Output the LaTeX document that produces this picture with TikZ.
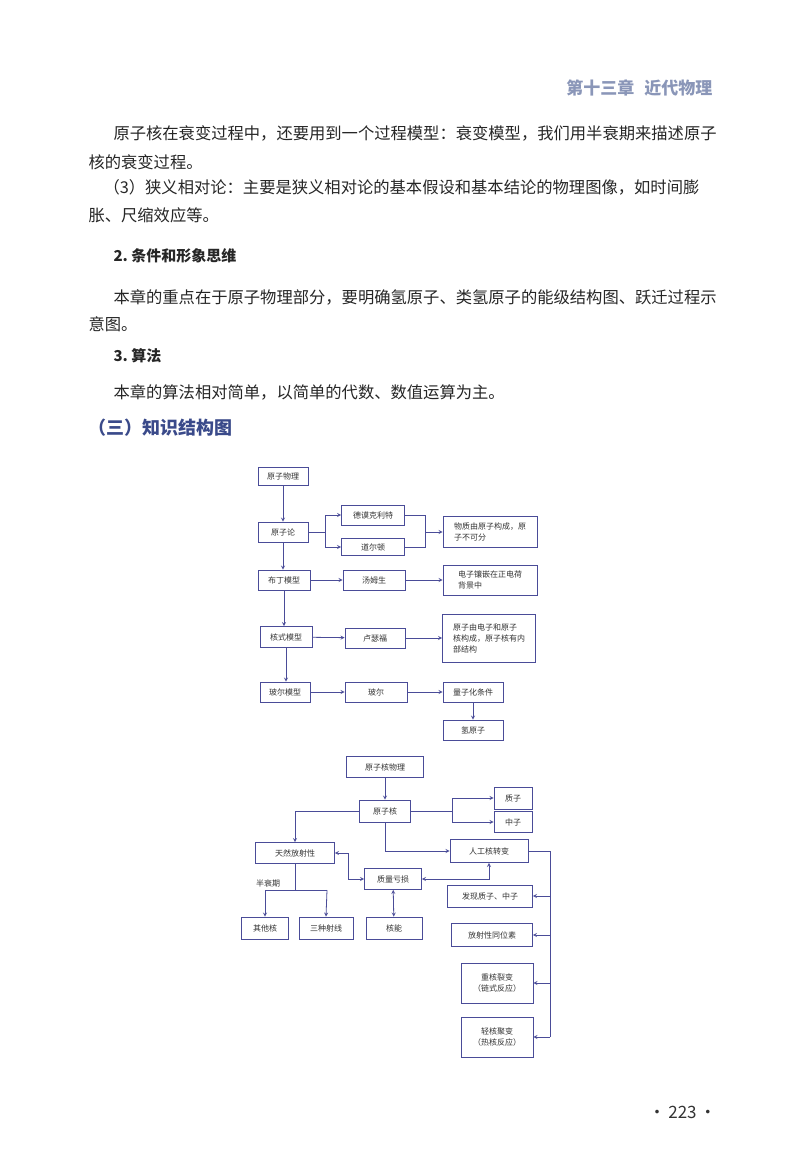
\documentclass[tikz,border=0pt]{standalone}
\usepackage{fontspec}
\setmainfont{Noto Sans CJK SC}
\usepackage{tikz}
\definecolor{lineblue}{HTML}{4A4C98}
\definecolor{headblue}{HTML}{8A96B8}
\definecolor{titleblue}{HTML}{3A4A8A}
\begin{document}
\begin{tikzpicture}[x=1pt, y=-1pt,
  box/.style={draw=lineblue, thick, inner sep=1pt, font=\fontsize{8}{11}\selectfont, text=black!80},
  para/.style={anchor=base west, font=\fontsize{16.3}{18}\selectfont, text=black!85},
  arr/.style={draw=lineblue, thick, ->, >=stealth},
  darr/.style={draw=lineblue, thick, <->, >=stealth},
  ln/.style={draw=lineblue, thick}]
\fill[white] (0,0) rectangle (800,1172);
\useasboundingbox (0,0) rectangle (800,1172);
% page text
\node[anchor=base east, font=\fontsize{17}{18}\selectfont\bfseries, text=headblue] (chap) at (716,94) {第十三章\hspace{10pt}近代物理};
\node[para] (p1) at (110,139) {原子核在衰变过程中，还要用到一个过程模型：衰变模型，我们用半衰期来描述原子};
\node[para] (p2) at (85,168) {核的衰变过程。};
\node[para] (p3) at (100,193) {（3）狭义相对论：主要是狭义相对论的基本假设和基本结论的物理图像，如时间膨};
\node[para] (p4) at (85,221) {胀、尺缩效应等。};
\node[para, font=\fontsize{15}{18}\selectfont\bfseries] (s2) at (110,261) {2.\ 条件和形象思维};
\node[para] (p5) at (110,303) {本章的重点在于原子物理部分，要明确氢原子、类氢原子的能级结构图、跃迁过程示};
\node[para] (p6) at (85,330) {意图。};
\node[para, font=\fontsize{15}{18}\selectfont\bfseries] (s3) at (110,361) {3.\ 算法};
\node[para] (p7) at (110,398) {本章的算法相对简单，以简单的代数、数值运算为主。};
\node[para, font=\fontsize{18}{20}\selectfont\bfseries, text=titleblue] (t3) at (85,434) {（三）知识结构图};
\node[anchor=base east, font=\fontsize{17}{18}\selectfont, text=black!80] (pg) at (720,1118) {·\,223\,·};
% atomic physics
\node[box, minimum width=50, minimum height=18] (ap) at (283,476) {原子物理};
\node[box, minimum width=50, minimum height=20] (al) at (283,532) {原子论};
\node[box, minimum width=52, minimum height=20] (bd) at (284,580) {布丁模型};
\node[box, minimum width=52, minimum height=21] (hs) at (286,637) {核式模型};
\node[box, minimum width=50, minimum height=20] (be) at (285,692) {玻尔模型};
\node[box, minimum width=63, minimum height=20] (dm) at (373,515) {德谟克利特};
\node[box, minimum width=63, minimum height=17] (de) at (373,547) {道尔顿};
\node[box, minimum width=94, minimum height=31, align=left] (wz) at (490,532) {物质由原子构成，原\\子不可分\hspace{3em}};
\node[box, minimum width=62, minimum height=20] (tm) at (374,580) {汤姆生};
\node[box, minimum width=94, minimum height=30, align=left] (dz) at (490,580) {电子镶嵌在正电荷\hspace{1em}\\背景中};
\node[box, minimum width=60, minimum height=20] (lf) at (375,638) {卢瑟福};
\node[box, minimum width=93, minimum height=48, align=left] (yz) at (489,638) {原子由电子和原子\\核构成，原子核有内\\部结构};
\node[box, minimum width=62, minimum height=20] (br) at (376,692) {玻尔};
\node[box, minimum width=60, minimum height=20] (lz) at (473,692) {量子化条件};
\node[box, minimum width=60, minimum height=20] (qy) at (473,730) {氢原子};
\draw[arr] (ap) -- (ap |- al.north);
\draw[arr] (al) -- (al |- bd.north);
\draw[arr] (bd) -- (bd |- hs.north);
\draw[arr] (hs) -- (hs |- be.north);
\draw[ln] (al.east) -- (325,532);
\draw[arr] (325,532) |- (dm.west);
\draw[arr] (325,532) |- (de.west);
\draw[ln] (dm.east) -- (425,515) -- (425,547) -- (de.east);
\draw[arr] (425,532) -- (wz.west);
\draw[arr] (bd) -- (tm);
\draw[arr] (tm) -- (dz.west |- tm);
\draw[arr] (hs) -- (lf);
\draw[arr] (lf) -- (yz.west |- lf);
\draw[arr] (be) -- (br);
\draw[arr] (br) -- (lz);
\draw[arr] (lz) -- (qy);
% nuclear physics
\node[box, minimum width=77, minimum height=21] (np) at (385,767) {原子核物理};
\node[box, minimum width=51, minimum height=22] (nu) at (385,811) {原子核};
\node[box, minimum width=38, minimum height=22] (pr) at (513,798) {质子};
\node[box, minimum width=38, minimum height=21] (ne) at (513,822) {中子};
\node[box, minimum width=79, minimum height=21] (tr) at (295,853) {天然放射性};
\node[box, minimum width=78, minimum height=23] (rg) at (489,851) {人工核转变};
\node[box, minimum width=57, minimum height=21] (zl) at (393,879) {质量亏损};
\node[box, minimum width=47, minimum height=22] (qt) at (265,928) {其他核};
\node[box, minimum width=54, minimum height=22] (sz) at (326,928) {三种射线};
\node[box, minimum width=56, minimum height=22] (hn) at (394,928) {核能};
\node[box, minimum width=85, minimum height=22] (fx) at (490,896) {发现质子、中子};
\node[box, minimum width=81, minimum height=23] (fs) at (492,935) {放射性同位素};
\node[box, minimum width=72, minimum height=40, align=center] (zh) at (497,983) {重核裂变\\（链式反应）};
\node[box, minimum width=72, minimum height=40, align=center] (qh) at (497,1037) {轻核聚变\\（热核反应）};
\draw[arr] (np) -- (nu);
\draw[arr] (nu.west) -| (tr.north);
\draw[ln] (nu.east) -- (452,811);
\draw[arr] (452,811) |- (pr.west);
\draw[arr] (452,811) |- (ne.west);
\draw[arr] (nu.south) |- (rg.west);
\draw[darr] (tr.east) -| (348,879) -- (zl.west);
\draw[darr] (zl.east) -| (rg.south);
\draw[darr] (zl) -- (hn);
\draw[ln] (tr.south) -- (295,890);
\draw[arr] (265,890) -- (qt.north);
\draw[arr] (327,890) -- (sz.north);
\draw[ln] (265,890) -- (327,890);
\node[font=\fontsize{8}{10}\selectfont, text=black!80] (bs) at (268,883) {半衰期};
\draw[ln] (rg.east) -- (550,851) -- (550,1037);
\draw[arr] (550,896) -- (fx.east);
\draw[arr] (550,935) -- (fs.east);
\draw[arr] (550,983) -- (zh.east);
\draw[arr] (550,1037) -- (qh.east);
\end{tikzpicture}
\end{document}
